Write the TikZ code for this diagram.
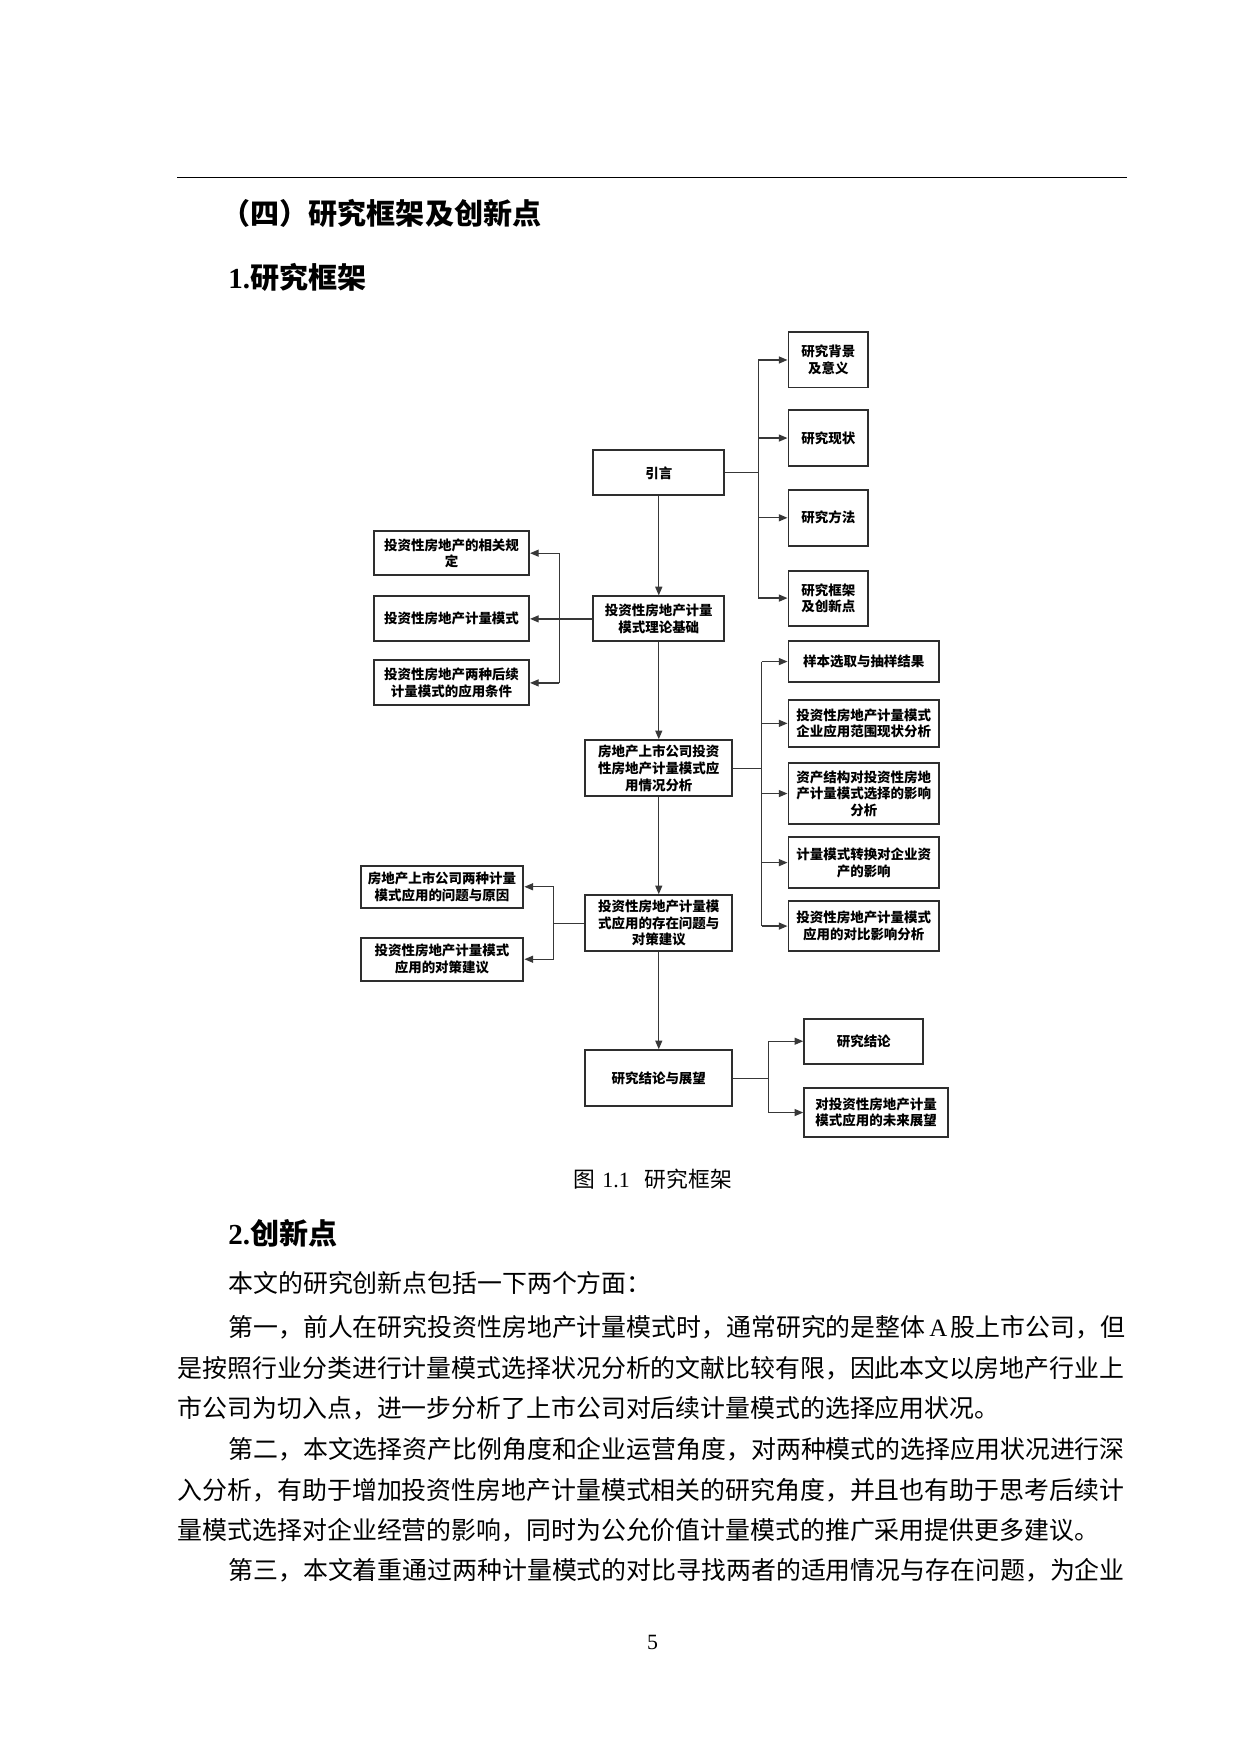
\documentclass[tikz,border=0pt]{standalone}
\usepackage{fontspec}
\setmainfont{Noto Sans CJK SC}
\newfontfamily\latinserif{Liberation Serif}
\usepackage{tikz}
\usetikzlibrary{arrows.meta,calc}
\def\unitpx{0.019022cm}
\def\framenode(#1)(#2,#3,#4,#5)#6{\node[box, minimum width={(#4-#2)*\unitpx}, minimum height={(#5-#3)*\unitpx}] (#1) at ({(#2+#4)/2},{(#3+#5)/2}) {#6};}
\def\jz{\noindent\XeTeXlinebreaklocale "zh"\XeTeXlinebreakskip=0pt plus 2pt\parfillskip=0pt\relax}

\begin{document}
\begin{tikzpicture}[x=0.019022cm, y=-0.019022cm,
	box/.style={draw=black!82, line width=0.95pt, align=center, inner sep=0pt, font=\fontsize{6.5}{8}\selectfont\bfseries},
	link/.style={draw=black!78, line width=0.6pt},
	arr/.style={link, -{Triangle[length=4.2pt,width=3.4pt]}},
	head/.style={anchor=west, inner sep=0pt, font=\fontsize{14}{16}\selectfont\bfseries},
	bodyline/.style={anchor=west, inner sep=0pt, font=\fontsize{12}{14}\selectfont}]
			%%%%% START %%%%%
			
			\useasboundingbox (0,0) rectangle (1104,1561.6);
			\draw[line width=0.7pt] (158,158) -- (1003,158);
			
			\node[head] (h4) at (197,190) {（四）研究框架及创新点};
			\node[head] (h1) at (203,247) {{\latinserif 1.}研究框架};
			
			% main column
			\framenode(yin)(528,401,645,441){引言}
			\framenode(jichu)(528,531,645,571){投资性房地产计量\\模式理论基础}
			\framenode(qk)(521,659,652,709){房地产上市公司投资\\性房地产计量模式应\\用情况分析}
			\framenode(wt)(521,797,652,847){投资性房地产计量模\\式应用的存在问题与\\对策建议}
			\framenode(jl)(521,935,652,985){研究结论与展望}
			
			% right, top group
			\framenode(r1)(702,296,773,345){研究背景\\及意义}
			\framenode(r2)(702,365,773,415){研究现状}
			\framenode(r3)(702,436,773,486){研究方法}
			\framenode(r4)(702,508,773,557){研究框架\\及创新点}
			
			% left, top group
			\framenode(l1)(333,473,471,512){投资性房地产的相关规\\定}
			\framenode(l2)(333,531,471,571){投资性房地产计量模式}
			\framenode(l3)(333,588,471,628){投资性房地产两种后续\\计量模式的应用条件}
			
			% right, middle group
			\framenode(s1)(702,571,836,607){样本选取与抽样结果}
			\framenode(s2)(702,623,836,665){投资性房地产计量模式\\企业应用范围现状分析}
			\framenode(s3)(702,679,836,734){资产结构对投资性房地\\产计量模式选择的影响\\分析}
			\framenode(s4)(702,745,836,791){计量模式转换对企业资\\产的影响}
			\framenode(s5)(702,802,836,847){投资性房地产计量模式\\应用的对比影响分析}
			
			% left, lower group
			\framenode(m1)(321,771,466,808){房地产上市公司两种计量\\模式应用的问题与原因}
			\framenode(m2)(321,835,466,873){投资性房地产计量模式\\应用的对策建议}
			
			% right, bottom group
			\framenode(e1)(716,907,822,947){研究结论}
			\framenode(e2)(716,969,844,1012){对投资性房地产计量\\模式应用的未来展望}
			
			% connectors
			\draw[arr] (yin) -- (jichu);
			\draw[arr] (jichu) -- (qk);
			\draw[arr] (qk) -- (wt);
			\draw[arr] (wt) -- (jl);
			
			\coordinate (ba) at (675,0);
			\draw[link] (yin.east) -- (yin.east -| ba);
			\draw[link] (ba |- r1) -- (ba |- r4);
			\foreach \n in {r1,r2,r3,r4}
				\draw[arr] (ba |- \n) -- (\n);
			
			\coordinate (bl) at (498,0);
			\draw[arr] (jichu) -- (l2);
			\draw[link] (bl |- l1) -- (bl |- l3);
			\foreach \n in {l1,l3}
				\draw[arr] (bl |- \n) -- (\n);
			
			\coordinate (bs) at (678,0);
			\draw[link] (qk.east) -- (qk.east -| bs);
			\draw[link] (bs |- s1) -- (bs |- s5);
			\foreach \n in {s1,s2,s3,s4,s5}
				\draw[arr] (bs |- \n) -- (\n);
			
			\coordinate (bm) at (493,0);
			\draw[link] (wt.west) -- (wt.west -| bm);
			\draw[link] (bm |- m1) -- (bm |- m2);
			\foreach \n in {m1,m2}
				\draw[arr] (bm |- \n) -- (\n);
			
			\coordinate (be) at (684,0);
			\draw[link] (jl.east) -- (jl.east -| be);
			\draw[link] (be |- e1) -- (be |- e2);
			\foreach \n in {e1,e2}
				\draw[arr] (be |- \n) -- (\n);
			
			\node[inner sep=0pt, font=\fontsize{10.5}{12}\selectfont] (cap) at (581,1050) {图\hspace{0.35em}{\latinserif 1.1}\hspace{0.7em}研究框架};
			
			% section 2
			\node[head] (h2) at (203,1098) {{\latinserif 2.}创新点};
			\node[bodyline] (p0) at (203,1142) {本文的研究创新点包括一下两个方面：};
			\node[bodyline, text width={800*\unitpx}] (p1) at (203,1182) {\jz 第一，前人在研究投资性房地产计量模式时，通常研究的是整体\hspace{1.8pt}{\latinserif A}\hspace{1.8pt}股上市公司，但};
			\node[bodyline, text width={845*\unitpx}] (p2) at (158,1218) {\jz 是按照行业分类进行计量模式选择状况分析的文献比较有限，因此本文以房地产行业上};
			\node[bodyline] (p3) at (158,1254) {市公司为切入点，进一步分析了上市公司对后续计量模式的选择应用状况。};
			\node[bodyline, text width={800*\unitpx}] (p4) at (203,1290) {\jz 第二，本文选择资产比例角度和企业运营角度，对两种模式的选择应用状况进行深};
			\node[bodyline, text width={845*\unitpx}] (p5) at (158,1327) {\jz 入分析，有助于增加投资性房地产计量模式相关的研究角度，并且也有助于思考后续计};
			\node[bodyline] (p6) at (158,1362) {量模式选择对企业经营的影响，同时为公允价值计量模式的推广采用提供更多建议。};
			\node[bodyline, text width={800*\unitpx}] (p7) at (203,1398) {\jz 第三，本文着重通过两种计量模式的对比寻找两者的适用情况与存在问题，为企业};
			
			\node[inner sep=0pt, font=\latinserif\fontsize{10.5}{12}\selectfont] (pg) at (581,1462) {5};
			
			%%%%% END %%%%%
\end{tikzpicture}
\end{document}
